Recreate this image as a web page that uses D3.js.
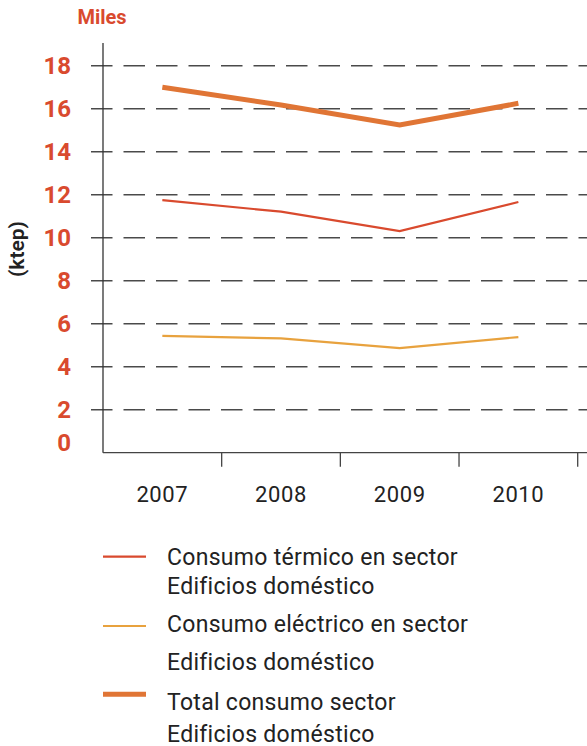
<!DOCTYPE html>
<html><head><meta charset="utf-8">
<script src="https://cdn.jsdelivr.net/npm/d3@7"></script>
<style>
body{margin:0;background:#fff;}
svg{display:block;font-family:Roboto, "Noto Sans", sans-serif;}
</style></head>
<body><svg id="c" width="587" height="746"></svg>
<script>
const years = ["2007","2008","2009","2010"];
const termico = [11.75, 11.21, 10.31, 11.66];
const electrico = [5.43, 5.32, 4.86, 5.38];
const total = [17.0, 16.17, 15.24, 16.25];
const yTicks = [0,2,4,6,8,10,12,14,16,18];
const legendLabels = [
  ["Consumo térmico en sector","Edificios doméstico"],
  ["Consumo eléctrico en sector","Edificios doméstico"],
  ["Total consumo sector","Edificios doméstico"]
];

const svg = d3.select("#c");
const mLeft = 103, mRight = 577.7, mTop = 43, mBottom = 452.7;
const x = d3.scaleBand().domain(years).range([mLeft, mRight]);
const y = d3.scaleLinear().domain([0, 18]).range([mBottom, 65.7]);
const red = "#d94a2e", orange = "#e8a23e", totalC = "#e07535";

// gridlines
svg.append("g").selectAll("line").data(yTicks.filter(d=>d>0)).join("line")
  .attr("x1", 91).attr("x2", 587)
  .attr("y1", d=>y(d)).attr("y2", d=>y(d))
  .attr("stroke", "#4a4a4a").attr("stroke-width", 1.4)
  .attr("stroke-dasharray", "21.5,11");

// y axis line
svg.append("line").attr("x1", mLeft).attr("x2", mLeft).attr("y1", mTop).attr("y2", mBottom)
  .attr("stroke", "#333").attr("stroke-width", 1.3);
// x axis
svg.append("line").attr("x1", mLeft).attr("x2", 587).attr("y1", mBottom).attr("y2", mBottom)
  .attr("stroke", "#444").attr("stroke-width", 1.3);
svg.append("g").selectAll("line").data(years).join("line")
  .attr("x1", d=>x(d)+x.bandwidth()).attr("x2", d=>x(d)+x.bandwidth())
  .attr("y1", mBottom).attr("y2", mBottom+14)
  .attr("stroke", "#444").attr("stroke-width", 1.3);
svg.append("g").selectAll("text").data(years).join("text")
  .attr("x", d=>x(d)+x.bandwidth()/2).attr("y", 502)
  .attr("text-anchor", "middle").attr("font-size", 22).attr("letter-spacing", 0.6)
  .attr("fill", "#222")
  .text(d=>d);

// y labels
svg.append("g").selectAll("text").data(yTicks).join("text")
  .attr("x", 71).attr("y", d=> d===0 ? y(d)-10 : y(d))
  .attr("dy", "0.35em").attr("text-anchor", "end")
  .attr("font-size", 24).attr("font-weight", "bold").attr("fill", red)
  .text(d=>d);

svg.append("text").attr("x", 102).attr("y", 24).attr("text-anchor","middle")
  .attr("font-size", 20).attr("font-weight","bold").attr("fill", red).text("Miles");

svg.append("text").attr("transform","translate(24,249) rotate(-90)")
  .attr("text-anchor","middle").attr("font-size", 21).attr("font-weight", 600)
  .attr("fill","#222").text("(ktep)");

// lines
const line = d3.line().x((d,i)=>x(years[i])+x.bandwidth()/2).y(d=>y(d));
const series = [
  {v: termico, c: red, w: 2.2},
  {v: electrico, c: orange, w: 2.2},
  {v: total, c: totalC, w: 5}
];
svg.append("g").selectAll("path").data(series).join("path")
  .attr("d", d=>line(d.v)).attr("fill","none")
  .attr("stroke", d=>d.c).attr("stroke-width", d=>d.w);

// legend
const legY = [556.7, 626, 694.3];
const textY = [[565, 593.5],[632, 670],[710, 741.5]];
const lg = svg.append("g");
series.forEach((s,i)=>{
  lg.append("line").attr("x1",103).attr("x2",146).attr("y1",legY[i]).attr("y2",legY[i])
    .attr("stroke", s.c).attr("stroke-width", s.w);
  legendLabels[i].forEach((t,j)=>{
    lg.append("text").attr("x",167).attr("y",textY[i][j]).attr("font-size",23)
      .attr("letter-spacing", 0.3).attr("fill","#222").text(t);
  });
});
</script></body></html>
